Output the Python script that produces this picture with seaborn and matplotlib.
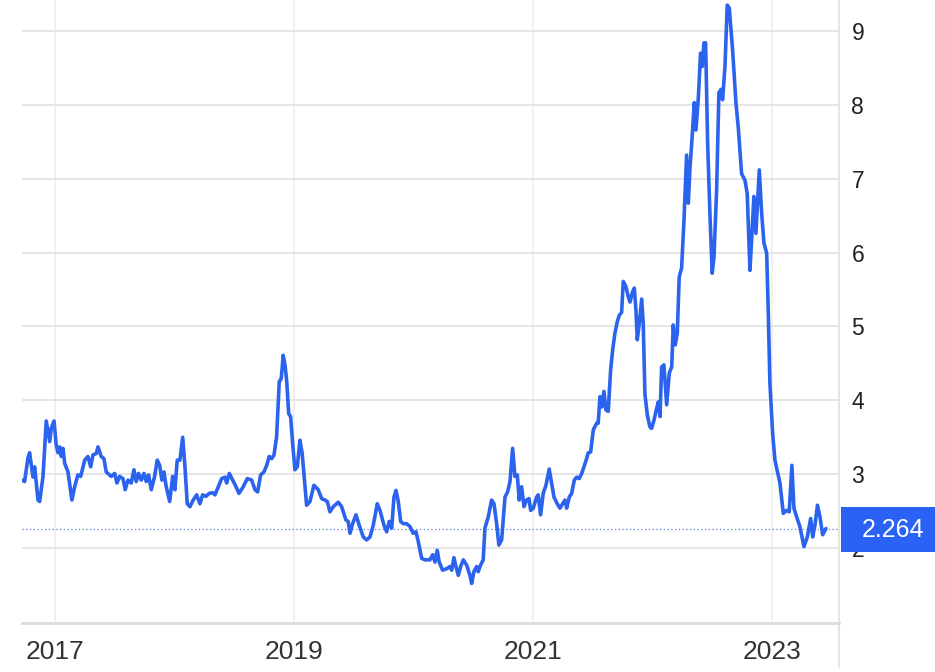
import matplotlib
matplotlib.use("Agg")
import matplotlib.pyplot as plt
import matplotlib.transforms as mtransforms
from matplotlib.patches import Rectangle
from matplotlib.lines import Line2D
import numpy as np
import pandas as pd
import seaborn as sns

# time as decimal year, price
years = [
  2016.724, 2016.746, 2016.774, 2016.788, 2016.802, 2016.816, 2016.830, 2016.858, 2016.872, 2016.900,
  2016.927, 2016.956, 2016.969, 2016.992, 2017.011, 2017.025, 2017.039, 2017.053, 2017.067, 2017.081,
  2017.109, 2017.142, 2017.165, 2017.192, 2017.215, 2017.249, 2017.276, 2017.299, 2017.318, 2017.346,
  2017.360, 2017.387, 2017.410, 2017.429, 2017.471, 2017.500, 2017.519, 2017.541, 2017.569, 2017.588,
  2017.611, 2017.638, 2017.661, 2017.680, 2017.700, 2017.722, 2017.745, 2017.764, 2017.784, 2017.806,
  2017.834, 2017.856, 2017.876, 2017.895, 2017.912, 2017.931, 2017.960, 2017.985, 2018.004, 2018.023,
  2018.046, 2018.069, 2018.088, 2018.107, 2018.130, 2018.157, 2018.186, 2018.213, 2018.236, 2018.264,
  2018.291, 2018.320, 2018.339, 2018.367, 2018.395, 2018.423, 2018.437, 2018.459, 2018.487, 2018.515,
  2018.540, 2018.576, 2018.609, 2018.646, 2018.674, 2018.696, 2018.721, 2018.749, 2018.772, 2018.793,
  2018.813, 2018.833, 2018.855, 2018.877, 2018.894, 2018.910, 2018.925, 2018.939, 2018.956, 2018.972,
  2018.989, 2019.008, 2019.028, 2019.050, 2019.069, 2019.090, 2019.106, 2019.134, 2019.167, 2019.203,
  2019.232, 2019.259, 2019.279, 2019.301, 2019.329, 2019.371, 2019.399, 2019.435, 2019.454, 2019.469,
  2019.491, 2019.519, 2019.546, 2019.580, 2019.608, 2019.636, 2019.664, 2019.697, 2019.720, 2019.753,
  2019.776, 2019.797, 2019.818, 2019.837, 2019.854, 2019.873, 2019.893, 2019.915, 2019.943, 2019.971,
  2019.998, 2020.021, 2020.040, 2020.069, 2020.096, 2020.138, 2020.161, 2020.180, 2020.199, 2020.216,
  2020.244, 2020.278, 2020.305, 2020.320, 2020.339, 2020.356, 2020.375, 2020.395, 2020.417, 2020.445,
  2020.473, 2020.487, 2020.506, 2020.529, 2020.542, 2020.562, 2020.584, 2020.598, 2020.626, 2020.654,
  2020.674, 2020.696, 2020.715, 2020.738, 2020.766, 2020.788, 2020.808, 2020.830, 2020.849, 2020.869,
  2020.885, 2020.905, 2020.925, 2020.947, 2020.967, 2020.981, 2021.003, 2021.031, 2021.044, 2021.064,
  2021.086, 2021.109, 2021.136, 2021.156, 2021.176, 2021.203, 2021.226, 2021.249, 2021.268, 2021.282,
  2021.304, 2021.324, 2021.346, 2021.366, 2021.387, 2021.408, 2021.427, 2021.449, 2021.463, 2021.483,
  2021.505, 2021.533, 2021.546, 2021.561, 2021.577, 2021.594, 2021.611, 2021.630, 2021.650, 2021.667,
  2021.686, 2021.705, 2021.722, 2021.742, 2021.756, 2021.778, 2021.798, 2021.812, 2021.834, 2021.848,
  2021.862, 2021.873, 2021.890, 2021.910, 2021.923, 2021.937, 2021.957, 2021.979, 2021.993, 2022.013,
  2022.035, 2022.049, 2022.063, 2022.077, 2022.096, 2022.119, 2022.141, 2022.161, 2022.174, 2022.191,
  2022.208, 2022.224, 2022.244, 2022.264, 2022.286, 2022.300, 2022.314, 2022.336, 2022.350, 2022.364,
  2022.383, 2022.403, 2022.417, 2022.431, 2022.445, 2022.462, 2022.481, 2022.500, 2022.515, 2022.537,
  2022.556, 2022.573, 2022.587, 2022.607, 2022.626, 2022.643, 2022.671, 2022.699, 2022.718, 2022.746,
  2022.774, 2022.793, 2022.816, 2022.833, 2022.849, 2022.866, 2022.894, 2022.914, 2022.933, 2022.956,
  2022.969, 2022.983, 2023.006, 2023.025, 2023.067, 2023.095, 2023.123, 2023.145, 2023.167, 2023.184,
  2023.207, 2023.234, 2023.268, 2023.296, 2023.324, 2023.341, 2023.360, 2023.381, 2023.402, 2023.424,
  2023.452,
]
price = [
  2.92, 2.90, 3.22, 3.29, 3.12, 2.96, 3.10, 2.65, 2.63, 2.97,
  3.72, 3.44, 3.62, 3.72, 3.39, 3.29, 3.37, 3.24, 3.35, 3.15,
  3.03, 2.65, 2.83, 2.99, 2.97, 3.19, 3.24, 3.10, 3.26, 3.28,
  3.37, 3.24, 3.21, 3.03, 2.97, 3.01, 2.88, 2.97, 2.94, 2.79,
  2.92, 2.88, 3.06, 2.90, 3.01, 2.92, 3.01, 2.90, 2.99, 2.79,
  2.97, 3.19, 3.12, 2.92, 3.03, 2.83, 2.63, 2.97, 2.79, 3.19,
  3.19, 3.50, 3.10, 2.60, 2.56, 2.65, 2.72, 2.60, 2.72, 2.70,
  2.74, 2.75, 2.72, 2.83, 2.94, 2.96, 2.88, 3.01, 2.92, 2.83,
  2.74, 2.83, 2.94, 2.92, 2.79, 2.76, 2.99, 3.03, 3.12, 3.24,
  3.21, 3.26, 3.51, 4.25, 4.30, 4.61, 4.48, 4.27, 3.82, 3.78,
  3.42, 3.06, 3.10, 3.46, 3.28, 2.88, 2.58, 2.63, 2.85, 2.79,
  2.67, 2.65, 2.63, 2.49, 2.56, 2.62, 2.56, 2.38, 2.36, 2.20,
  2.33, 2.45, 2.31, 2.15, 2.11, 2.15, 2.31, 2.60, 2.51, 2.31,
  2.22, 2.36, 2.27, 2.69, 2.78, 2.63, 2.36, 2.33, 2.33, 2.29,
  2.20, 2.22, 2.09, 1.86, 1.84, 1.84, 1.91, 1.81, 1.97, 1.81,
  1.70, 1.72, 1.75, 1.70, 1.87, 1.75, 1.63, 1.75, 1.84, 1.77,
  1.63, 1.52, 1.68, 1.75, 1.68, 1.77, 1.84, 2.27, 2.42, 2.65,
  2.60, 2.33, 2.04, 2.11, 2.69, 2.76, 2.90, 3.35, 2.97, 2.99,
  2.65, 2.83, 2.56, 2.65, 2.67, 2.51, 2.54, 2.69, 2.72, 2.45,
  2.74, 2.85, 3.07, 2.88, 2.69, 2.60, 2.54, 2.60, 2.65, 2.54,
  2.69, 2.74, 2.92, 2.96, 2.94, 3.01, 3.10, 3.21, 3.29, 3.30,
  3.60, 3.69, 3.69, 4.05, 3.91, 4.12, 3.87, 3.85, 4.41, 4.68,
  4.91, 5.06, 5.15, 5.19, 5.61, 5.54, 5.40, 5.33, 5.47, 5.52,
  5.22, 4.82, 5.04, 5.37, 5.04, 4.09, 3.80, 3.64, 3.62, 3.73,
  3.89, 3.98, 3.78, 4.45, 4.48, 3.94, 4.37, 4.45, 5.02, 4.75,
  4.91, 5.67, 5.79, 6.44, 7.32, 6.67, 7.14, 7.66, 8.03, 7.66,
  8.07, 8.70, 8.52, 8.84, 8.84, 7.48, 6.53, 5.72, 5.94, 6.84,
  8.16, 8.21, 8.07, 8.52, 9.35, 9.31, 8.74, 8.02, 7.70, 7.07,
  6.98, 6.80, 5.76, 6.26, 6.76, 6.26, 7.12, 6.53, 6.13, 5.99,
  5.22, 4.23, 3.55, 3.19, 2.88, 2.47, 2.51, 2.49, 3.12, 2.54,
  2.42, 2.29, 2.02, 2.15, 2.40, 2.15, 2.31, 2.58, 2.42, 2.18,
  2.264,
]
last_price = 2.264
year_ticks = [2017, 2019, 2021, 2023]
year_labels = ["2017", "2019", "2021", "2023"]
price_ticks = [2, 3, 4, 5, 6, 7, 8, 9]

line_color = "#2b63ee"
box_color = "#2962f5"

sns.set_theme(style="white")
plt.rcParams['font.family'] = ['Liberation Sans', 'DejaVu Sans']

df = pd.DataFrame({"year": years, "price": price})

fig = plt.figure(figsize=(9.35, 6.72), dpi=100)
ax = fig.add_axes([0.0235, 0.0729, 0.8738, 0.9271])

sns.lineplot(data=df, x="year", y="price", color=line_color, linewidth=2.6, ax=ax, zorder=4)

ax.set_xlim(2016.724, 2023.561)
ax.set_ylim(0.985, 9.42)
ax.set_xticks(year_ticks)
ax.set_xticklabels(year_labels)
ax.set_yticks(price_ticks)
ax.yaxis.tick_right()
ax.tick_params(axis="y", length=0, pad=9, labelsize=16.5, labelcolor="#222222")
ax.tick_params(axis="x", length=0, pad=12, labelsize=19, labelcolor="#333333")
ax.set_xlabel("")
ax.set_ylabel("")

ax.grid(axis="y", color="#e3e3e3", linewidth=1.3)
ax.grid(axis="x", color="#efefef", linewidth=1.3)
ax.set_axisbelow(True)

for side in ["top", "left"]:
  ax.spines[side].set_visible(False)
ax.spines["bottom"].set_color("#dcdcdc")
ax.spines["bottom"].set_linewidth(2)
ax.spines["right"].set_visible(False)
# right axis line that runs a bit below the plot
ax.add_line(Line2D([1, 1], [1, -0.07], transform=ax.transAxes, color="#e3e3e3",
                   linewidth=1.3, clip_on=False, zorder=1))

# last value marker: dotted line and blue label box
ax.axhline(last_price, color="#5a7fd6", linewidth=0.9, linestyle=(0, (1, 2)), zorder=3)
trans = mtransforms.blended_transform_factory(ax.transAxes, ax.transData)
ax.add_patch(Rectangle((1.003, last_price - 0.32), 0.2, 0.61, transform=trans,
                       facecolor=box_color, edgecolor="none", clip_on=False, zorder=6))
ax.text(1.066, last_price - 0.02, "{:.3f}".format(last_price), transform=trans, color="white",
        fontsize=18, ha="center", va="center", zorder=7)

plt.savefig("out.png", dpi=100)
